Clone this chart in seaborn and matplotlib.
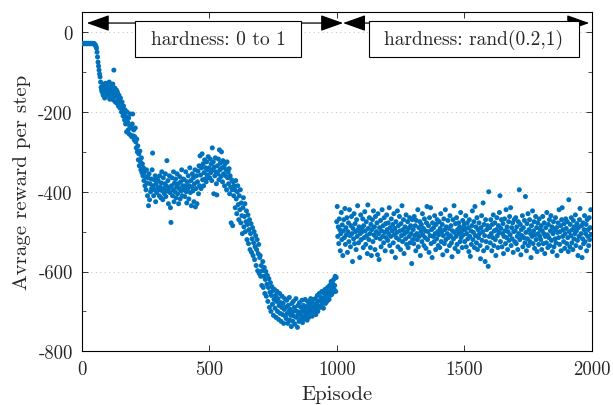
import numpy as np
import pandas as pd
import matplotlib
matplotlib.use("Agg")
import matplotlib.pyplot as plt
from matplotlib.patches import Rectangle
import seaborn as sns

# ---------------- data ----------------
episode_step = 2
phase1_rewards = [
    # 0-98
    -28, -28, -29, -28, -28, -29, -28, -28, -28, -29, -28, -28, -29, -28, -28, -28, -29, -28, -28, -28,
    -29, -28, -28, -29, -28, -30, -31, -33, -36, -40, -50, -62, -75, -85, -95, -105, -112, -125, -138, -145,
    -150, -135, -158, -142, -130, -165, -148, -128, -155, -140,
    # 100-198
    -150, -132, -160, -145, -125, -168, -140, -152, -135, -162, -148, -130, -170, -95, -155, -140, -175, -160, -145, -178,
    -150, -165, -185, -158, -172, -190, -165, -180, -200, -175, -192, -210, -185, -205, -220, -195, -230, -212, -250, -200,
    -225, -245, -215, -255, -235, -205, -258, -240, -262, -230,
    # 200-298
    -205, -260, -245, -270, -262, -240, -275, -290, -268, -300, -285, -320, -305, -335, -298, -325, -345, -315, -352, -330,
    -360, -340, -372, -350, -385, -362, -395, -345, -378, -410, -365, -435, -355, -420, -380, -400, -368, -392, -345, -303,
    -385, -410, -370, -395, -360, -425, -380, -402, -365, -390,
    # 300-398
    -372, -395, -410, -360, -388, -415, -378, -350, -398, -420, -365, -392, -405, -380, -355, -412, -385, -322, -398, -372,
    -430, -390, -360, -402, -440, -477, -385, -365, -410, -395, -350, -425, -378, -400, -368, -415, -388, -355, -405, -380,
    -430, -392, -362, -418, -375, -398, -345, -410, -385, -368,
    # 400-498
    -395, -370, -412, -385, -350, -400, -428, -375, -392, -360, -418, -385, -340, -402, -372, -435, -388, -355, -398, -365,
    -425, -380, -345, -438, -392, -360, -430, -375, -348, -405, -335, -385, -310, -358, -392, -340, -305, -370, -330, -385,
    -352, -320, -368, -340, -375, -325, -358, -345, -312, -365,
    # 500-598
    -340, -365, -318, -352, -330, -372, -290, -345, -325, -405, -338, -360, -315, -350, -380, -408, -335, -355, -318, -370,
    -295, -345, -328, -362, -300, -340, -375, -322, -355, -338, -385, -330, -360, -345, -395, -325, -365, -350, -380, -342,
    -405, -360, -388, -478, -370, -395, -485, -375, -410, -385,
    # 600-698
    -395, -440, -372, -418, -455, -400, -385, -432, -470, -410, -445, -395, -478, -428, -460, -505, -440, -415, -488, -462,
    -430, -500, -475, -448, -520, -482, -458, -530, -495, -470, -545, -505, -480, -552, -518, -490, -560, -528, -500, -570,
    -538, -510, -585, -545, -520, -598, -555, -532, -605, -565,
    # 700-798
    -560, -612, -585, -635, -598, -575, -640, -612, -590, -655, -620, -600, -662, -632, -610, -675, -640, -618, -690, -652,
    -628, -700, -660, -638, -682, -648, -710, -670, -645, -692, -660, -715, -675, -650, -700, -668, -720, -685, -655, -705,
    -678, -725, -690, -662, -708, -680, -730, -695, -668, -712,
    # 800-898
    -690, -718, -672, -705, -730, -685, -700, -665, -722, -695, -710, -738, -680, -702, -725, -675, -712, -690, -732, -698,
    -668, -715, -700, -740, -685, -708, -725, -678, -702, -720, -690, -710, -672, -728, -700, -685, -718, -695, -670, -712,
    -705, -688, -722, -675, -700, -715, -682, -705, -692, -668,
    # 900-998
    -700, -678, -712, -688, -670, -705, -685, -695, -668, -708, -680, -692, -660, -700, -675, -688, -655, -690, -672, -665,
    -685, -650, -678, -668, -692, -655, -672, -645, -680, -662, -650, -675, -640, -665, -655, -670, -635, -660, -648, -625,
    -658, -640, -630, -652, -620, -645, -635, -612, -650, -615,
]
phase2_rewards = [
    # 1000-1098
    -475, -437, -512, -488, -530, -468, -495, -548, -505, -452, -520, -483, -560, -498, -470, -515, -442, -532, -490, -508,
    -465, -552, -500, -478, -525, -445, -510, -538, -485, -462, -505, -575, -492, -518, -455, -530, -480, -500, -545, -470,
    -512, -435, -495, -528, -488, -565, -505, -458, -520, -490,
    # 1100-1198
    -500, -468, -540, -485, -515, -450, -498, -532, -475, -510, -555, -433, -492, -520, -465, -505, -540, -482, -560, -495,
    -470, -525, -448, -508, -488, -545, -462, -515, -500, -478, -558, -455, -505, -570, -490, -518, -472, -538, -498, -445,
    -512, -485, -528, -465, -502, -548, -480, -515, -458, -495,
    # 1200-1298
    -522, -478, -505, -440, -535, -490, -512, -468, -550, -498, -482, -528, -455, -508, -492, -565, -475, -515, -502, -448,
    -538, -485, -520, -462, -498, -545, -480, -510, -435, -525, -495, -470, -555, -505, -488, -518, -458, -532, -500, -475,
    -540, -492, -512, -465, -528, -485, -505, -580, -470, -520,
    # 1300-1398
    -495, -530, -462, -510, -485, -548, -472, -505, -520, -445, -538, -490, -512, -475, -560, -500, -482, -525, -455, -508,
    -492, -535, -468, -515, -498, -542, -478, -437, -520, -500, -485, -552, -465, -510, -440, -530, -495, -565, -478, -512,
    -490, -525, -460, -505, -545, -482, -518, -470, -500, -535,
    # 1400-1498
    -508, -475, -540, -492, -455, -525, -500, -482, -558, -510, -468, -530, -495, -445, -520, -488, -548, -505, -472, -515,
    -492, -535, -460, -510, -485, -528, -563, -498, -470, -518, -435, -502, -542, -480, -512, -465, -532, -495, -550, -478,
    -505, -488, -525, -452, -515, -498, -540, -472, -508, -490,
    # 1500-1598
    -482, -525, -495, -460, -538, -505, -478, -518, -490, -550, -470, -512, -562, -498, -532, -485, -448, -520, -502, -475,
    -540, -437, -510, -488, -528, -465, -545, -495, -515, -478, -505, -535, -568, -490, -460, -522, -500, -428, -548, -482,
    -510, -575, -470, -525, -495, -540, -485, -587, -400, -512,
    # 1600-1698
    -490, -528, -470, -505, -548, -482, -515, -458, -535, -498, -478, -520, -560, -495, -465, -510, -540, -485, -502, -452,
    -410, -525, -492, -470, -538, -505, -480, -555, -512, -468, -498, -530, -445, -515, -488, -545, -500, -475, -522, -462,
    -508, -440, -535, -490, -518, -478, -552, -500, -470, -525,
    # 1700-1798
    -498, -465, -530, -488, -512, -545, -475, -505, -395, -520, -482, -558, -495, -510, -460, -538, -490, -515, -472, -528,
    -412, -502, -548, -480, -518, -455, -535, -495, -470, -525, -505, -565, -485, -512, -448, -530, -498, -475, -542, -508,
    -462, -520, -490, -550, -478, -505, -532, -468, -512, -495,
    # 1800-1898
    -520, -485, -545, -498, -462, -530, -505, -478, -555, -512, -490, -528, -452, -508, -540, -482, -515, -470, -535, -498,
    -460, -522, -488, -550, -505, -475, -538, -495, -518, -465, -528, -490, -560, -502, -478, -515, -445, -532, -500, -485,
    -548, -470, -440, -512, -495, -525, -480, -542, -505, -468,
    # 1900-1998
    -492, -530, -475, -515, -550, -420, -500, -538, -482, -510, -465, -528, -495, -545, -472, -518, -488, -505, -458, -535,
    -498, -480, -522, -560, -490, -512, -470, -442, -540, -505, -485, -565, -518, -478, -530, -495, -460, -525, -505, -482,
    -548, -470, -512, -495, -535, -465, -520, -490, -445, -508,
]
x_ticks = [0, 500, 1000, 1500, 2000]
y_ticks = [0, -200, -400, -600, -800]
y_minor_ticks = [0, -100, -200, -300, -400, -500, -600, -700, -800]
phase_labels = ["hardness: 0 to 1", "hardness: rand(0.2,1)"]
phase_bounds = [20, 1025, 1990]
box_x0 = [209, 1127]
box_x1 = [860, 1950]
box_y0, box_y1 = -62, 28

rewards = phase1_rewards + phase2_rewards
episodes = list(range(0, episode_step * len(rewards), episode_step))
df = pd.DataFrame({"Episode": episodes, "Reward": rewards})

# ---------------- style ----------------
sns.set_style("ticks")
plt.rcParams.update({
    "font.family": ["cmr10", "DejaVu Serif"],
    "mathtext.fontset": "cm",
    "axes.unicode_minus": False,
    "axes.formatter.use_mathtext": True,
    "axes.edgecolor": "black",
    "axes.linewidth": 0.8,
})

fig = plt.figure(figsize=(6.13, 4.06), dpi=100)
ax = fig.add_axes([0.1333, 0.1323, 0.832, 0.835])

sns.scatterplot(data=df, x="Episode", y="Reward", ax=ax, color="#0072BD",
                s=13, linewidth=0, edgecolor="none", zorder=3)

ax.set_xlim(0, 2000)
ax.set_ylim(-800, 50)
ax.set_xticks(x_ticks)
ax.set_xticklabels([str(v) for v in x_ticks])
ax.set_yticks(y_ticks)
ax.set_yticklabels([str(v) for v in y_ticks])
ax.set_yticks(y_minor_ticks, minor=True)

ax.tick_params(axis="both", which="major", direction="in", length=4, width=0.7,
               top=True, right=True, labelsize=13.5, pad=6.5, color="#333333")
ax.tick_params(axis="y", which="minor", direction="in", length=3, width=0.6,
               left=True, right=True, color="#333333")
ax.tick_params(axis="x", which="minor", bottom=False, top=False)
for sp in ax.spines.values():
    sp.set_visible(True)
    sp.set_color("black")
    sp.set_linewidth(0.8)

ax.yaxis.grid(True, which="major", linestyle=(0, (1, 3)), color="#c8c8c8", linewidth=0.8)
ax.xaxis.grid(False)
ax.set_axisbelow(True)

ax.set_xlabel("Episode", fontsize=15, labelpad=5)
ax.set_ylabel("Avrage reward per step", fontsize=15, labelpad=5)

# phase arrows
arrow_y = 23
for a, b in zip(phase_bounds[:-1], phase_bounds[1:]):
    ax.annotate("", xy=(b, arrow_y), xytext=(a, arrow_y),
                arrowprops=dict(arrowstyle="<|-|>,head_length=1.4,head_width=0.5",
                                color="black", lw=0.9, shrinkA=0, shrinkB=0),
                zorder=4, annotation_clip=False)

for x0, x1, txt in zip(box_x0, box_x1, phase_labels):
    ax.add_patch(Rectangle((x0, box_y0), x1 - x0, box_y1 - box_y0, facecolor="white",
                           edgecolor="black", linewidth=0.8, zorder=5))
    ax.text((x0 + x1) / 2, (box_y0 + box_y1) / 2, txt, ha="center", va="center",
            fontsize=14, zorder=6)

fig.savefig("out.png", dpi=100)
